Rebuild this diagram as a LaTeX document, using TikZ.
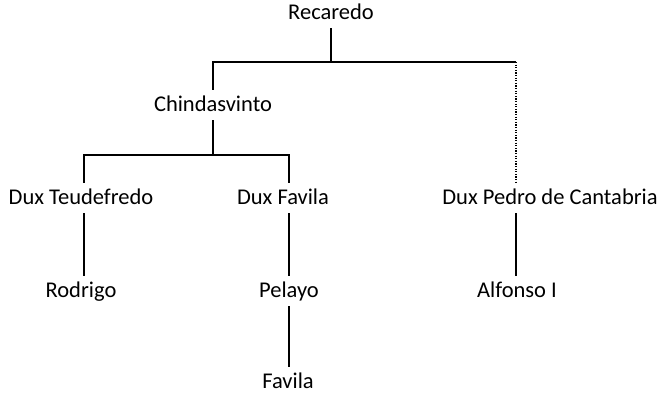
\documentclass[tikz,border=0pt]{standalone}
\usepackage{fontspec}
\setmainfont{Carlito}

\begin{document}
\begin{tikzpicture}[x=1pt, y=-1pt]
    % Define styles
    \tikzstyle{person} = [anchor=base, font=\fontsize{22.5}{26}\selectfont, text height=18pt, text depth=4pt, inner ysep=4pt, inner xsep=0pt]
    \tikzstyle{link} = [line width=2.2pt]
    \tikzstyle{uncertain} = [line width=2.2pt, dash pattern=on 1.3pt off 1.3pt]

    \useasboundingbox (0,0) rectangle (662,395);

    % Persons
    \node [person] (recaredo) at (331,20) {Recaredo};
    \node [person] (chindasvinto) at (213,112) {Chindasvinto};
    \node [person] (teudefredo) at (81,205) {Dux Teudefredo};
    \node [person] (duxfavila) at (283,205) {Dux Favila};
    \node [person] (pedro) at (550,205) {Dux Pedro de Cantabria};
    \node [person] (rodrigo) at (81,298) {Rodrigo};
    \node [person] (pelayo) at (289,298) {Pelayo};
    \node [person] (alfonso) at (517,298) {Alfonso I};
    \node [person] (favila) at (288,389) {Favila};

    % Junctions
    \coordinate (topmid) at (331,62);
    \coordinate (topleft) at (213,62);
    \coordinate (topright) at (516,62);
    \coordinate (midmid) at (213,155);
    \coordinate (midleft) at (84,155);
    \coordinate (midright) at (289,155);

    % Upper level
    \draw [link] (recaredo.south) -- (topmid);
    \draw [link] (chindasvinto.north) -- (topleft) -- (topright);
    \draw [uncertain] (topright) -- (topright |- pedro.north);

    % Middle level
    \draw [link] (chindasvinto.south) -- (midmid);
    \draw [link] (midleft |- teudefredo.north) -- (midleft) -- (midright) -- (midright |- duxfavila.north);

    % Lower level
    \draw [link] (midleft |- teudefredo.south) -- (midleft |- rodrigo.north);
    \draw [link] (midright |- duxfavila.south) -- (pelayo.north);
    \draw [link] (topright |- pedro.south) -- (topright |- alfonso.north);
    \draw [link] (pelayo.south) -- (pelayo.south |- favila.north);
\end{tikzpicture}
\end{document}
